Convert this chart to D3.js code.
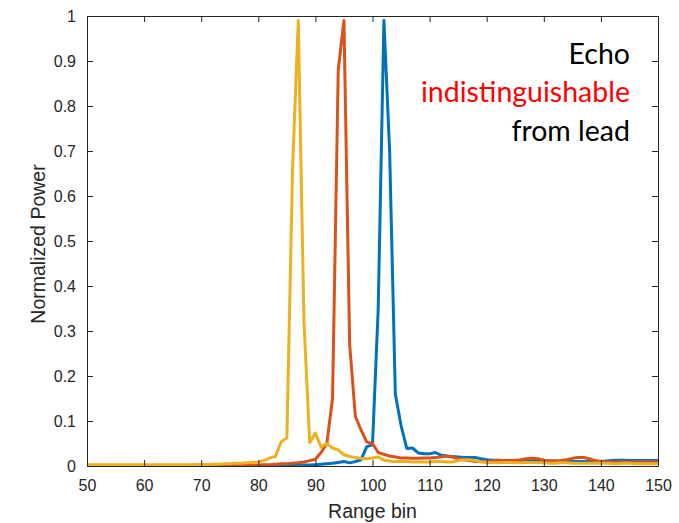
<!DOCTYPE html>
<html>
<head>
<meta charset="utf-8">
<script src="https://cdn.jsdelivr.net/npm/d3@7"></script>
<style>
  body { margin: 0; background: #fff; }
  svg { display: block; }
</style>
</head>
<body>
<div id="chart"></div>
<script>
// range bins 50..150
var bins = d3.range(50, 151);

// blue series (bins 50..150)
var blueVals = [
  0.001, 0.001, 0.001, 0.001, 0.001, 0.001, 0.001, 0.001, 0.001, 0.001, // 50-59
  0.001, 0.001, 0.001, 0.001, 0.001, 0.001, 0.001, 0.001, 0.001, 0.001, // 60-69
  0.001, 0.001, 0.001, 0.001, 0.001, 0.001, 0.001, 0.001, 0.001, 0.001, // 70-79
  0.001, 0.001, 0.001, 0.001, 0.001, 0.001, 0.001, 0.002, 0.002, 0.002, // 80-89
  0.003, 0.004, 0.005, 0.006, 0.008, 0.010, 0.007, 0.010, 0.014, 0.043, // 90-99
  0.047, 0.350, 0.990, 0.700, 0.160, 0.090, 0.039, 0.040, 0.029, 0.027, // 100-109
  0.027, 0.030, 0.024, 0.022, 0.021, 0.020, 0.019, 0.019, 0.019, 0.016, // 110-119
  0.014, 0.013, 0.013, 0.012, 0.012, 0.012, 0.012, 0.012, 0.012, 0.011, // 120-129
  0.011, 0.011, 0.011, 0.010, 0.010, 0.010, 0.010, 0.010, 0.010, 0.010, // 130-139
  0.010, 0.011, 0.012, 0.013, 0.013, 0.012, 0.012, 0.012, 0.012, 0.012, // 140-149
  0.012 // 150
];

// orange series
var orangeVals = [
  0.001, 0.001, 0.001, 0.001, 0.001, 0.001, 0.001, 0.001, 0.001, 0.001, // 50-59
  0.001, 0.001, 0.001, 0.001, 0.001, 0.001, 0.001, 0.001, 0.001, 0.002, // 60-69
  0.002, 0.002, 0.002, 0.002, 0.002, 0.002, 0.002, 0.002, 0.002, 0.002, // 70-79
  0.002, 0.003, 0.003, 0.004, 0.005, 0.005, 0.006, 0.007, 0.009, 0.012, // 80-89
  0.015, 0.030, 0.050, 0.150, 0.880, 0.990, 0.270, 0.110, 0.080, 0.053, // 90-99
  0.050, 0.030, 0.026, 0.022, 0.020, 0.018, 0.018, 0.017, 0.017, 0.018, // 100-109
  0.018, 0.019, 0.020, 0.022, 0.020, 0.016, 0.014, 0.012, 0.010, 0.010, // 110-119
  0.010, 0.011, 0.012, 0.012, 0.012, 0.013, 0.014, 0.016, 0.017, 0.016, // 120-129
  0.013, 0.011, 0.011, 0.012, 0.014, 0.017, 0.019, 0.019, 0.016, 0.012, // 130-139
  0.010, 0.009, 0.009, 0.009, 0.009, 0.009, 0.009, 0.009, 0.009, 0.009, // 140-149
  0.009 // 150
];

// yellow series
var yellowVals = [
  0.003, 0.003, 0.003, 0.003, 0.003, 0.003, 0.003, 0.003, 0.003, 0.003, // 50-59
  0.003, 0.003, 0.003, 0.003, 0.003, 0.003, 0.003, 0.003, 0.003, 0.003, // 60-69
  0.003, 0.003, 0.004, 0.004, 0.005, 0.005, 0.006, 0.006, 0.007, 0.008, // 70-79
  0.009, 0.012, 0.018, 0.021, 0.054, 0.062, 0.660, 0.990, 0.320, 0.052, // 80-89
  0.073, 0.042, 0.050, 0.040, 0.036, 0.025, 0.021, 0.019, 0.017, 0.016, // 90-99
  0.018, 0.020, 0.013, 0.011, 0.010, 0.010, 0.010, 0.009, 0.009, 0.009, // 100-109
  0.009, 0.010, 0.010, 0.009, 0.009, 0.012, 0.014, 0.014, 0.012, 0.009, // 110-119
  0.008, 0.007, 0.007, 0.008, 0.008, 0.007, 0.007, 0.008, 0.008, 0.007, // 120-129
  0.007, 0.006, 0.006, 0.007, 0.007, 0.006, 0.006, 0.006, 0.006, 0.006, // 130-139
  0.006, 0.006, 0.005, 0.005, 0.006, 0.006, 0.005, 0.005, 0.005, 0.005, // 140-149
  0.005 // 150
];

var seriesColors = ["#0072BD", "#D95319", "#EDB120"];
var xTicks = d3.range(50, 151, 10);
var yTicks = d3.range(0, 11).map(function(d) { return d / 10; });
var noteLines = ["Echo", "indistinguishable", "from lead"];
var noteColors = ["#000000", "#FF0000", "#000000"];

var w = 679, h = 523;
var margin = { top: 16, right: 21, bottom: 57, left: 87 };
var iw = w - margin.left - margin.right;
var ih = h - margin.top - margin.bottom;
var axisColor = "#262626";

var svg = d3.select("#chart")
  .append("svg")
  .attr("width", w)
  .attr("height", h);

var g = svg.append("g")
  .attr("transform", "translate(" + margin.left + "," + margin.top + ")");

var xScale = d3.scaleLinear().domain([50, 150]).range([0, iw]);
var yScale = d3.scaleLinear().domain([0, 1]).range([ih, 0]);

var line = d3.line()
  .x(function(d) { return xScale(d[0]); })
  .y(function(d) { return yScale(d[1]); });

var allSeries = [blueVals, orangeVals, yellowVals];

g.append("defs").append("clipPath")
  .attr("id", "clip")
  .append("rect")
  .attr("width", iw)
  .attr("height", ih);

g.append("g")
  .attr("clip-path", "url(#clip)")
  .selectAll("path")
  .data(allSeries)
  .enter()
  .append("path")
  .attr("d", function(vals) {
    return line(bins.map(function(b, i) { return [b, vals[i]]; }));
  })
  .attr("fill", "none")
  .attr("stroke", function(d, i) { return seriesColors[i]; })
  .attr("stroke-width", 3)
  .attr("stroke-linejoin", "round");

// axes, matlab style: ticks inside, box all round
var xAxis = d3.axisBottom(xScale).tickValues(xTicks).tickSizeInner(-6).tickSizeOuter(0).tickPadding(14);
var yAxis = d3.axisLeft(yScale).tickValues(yTicks).tickSizeInner(-6).tickSizeOuter(0).tickPadding(11)
  .tickFormat(function(d) { return d3.format("")(+d.toFixed(1)); });
var xTop = d3.axisTop(xScale).tickValues(xTicks).tickSizeInner(-6).tickSizeOuter(0).tickFormat("");
var yRight = d3.axisRight(yScale).tickValues(yTicks).tickSizeInner(-6).tickSizeOuter(0).tickFormat("");

function styleAxis(sel) {
  sel.select(".domain").attr("stroke", axisColor).attr("stroke-width", 1);
  sel.selectAll(".tick line").attr("stroke", axisColor);
  sel.selectAll("text")
    .attr("fill", axisColor)
    .attr("font-family", "'Liberation Sans', Arial, sans-serif")
    .attr("font-size", "16px");
}

g.append("g").attr("transform", "translate(0," + ih + ")").call(xAxis).call(styleAxis);
g.append("g").call(yAxis).call(styleAxis);
g.append("g").call(xTop).call(styleAxis);
g.append("g").attr("transform", "translate(" + iw + ",0)").call(yRight).call(styleAxis);

g.append("text")
  .text("Range bin")
  .attr("x", iw / 2)
  .attr("y", ih + 52)
  .attr("text-anchor", "middle")
  .attr("font-family", "'Liberation Sans', Arial, sans-serif")
  .attr("font-size", "19.5px")
  .attr("fill", axisColor);

g.append("text")
  .text("Normalized Power")
  .attr("transform", "translate(-42," + (ih / 2 + 3) + ") rotate(-90)")
  .attr("text-anchor", "middle")
  .attr("font-family", "'Liberation Sans', Arial, sans-serif")
  .attr("font-size", "19.5px")
  .attr("fill", axisColor);

g.selectAll(".note")
  .data(noteLines)
  .enter()
  .append("text")
  .attr("class", "note")
  .text(function(d) { return d; })
  .attr("x", 630 - margin.left)
  .attr("y", function(d, i) { return 64 - margin.top + i * 38.3; })
  .attr("text-anchor", "end")
  .attr("font-family", "Lato, 'Open Sans', sans-serif")
  .attr("font-size", "28.5px")
  .attr("fill", function(d, i) { return noteColors[i]; });
</script>
</body>
</html>
